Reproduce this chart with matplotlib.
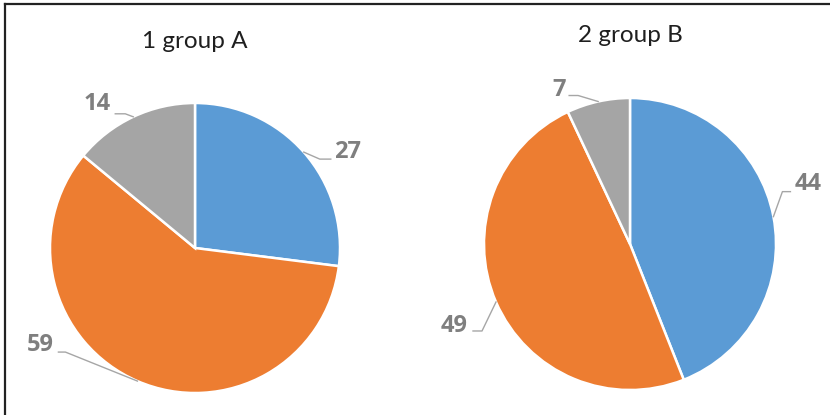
import matplotlib
matplotlib.use('Agg')
import matplotlib.pyplot as plt
import numpy as np

# ── Data ──────────────────────────────────────────────────────────────────────
titles   = ['1 group A', '2 group B']
group_a  = [27, 59, 14]
group_b  = [44, 49, 7]

BLUE   = '#5B9BD5'
ORANGE = '#ED7D31'
GRAY   = '#A5A5A5'
colors = [BLUE, ORANGE, GRAY]

W, H = 830, 415
plt.rcParams['font.family'] = ['Lato', 'DejaVu Sans']

fig = plt.figure(figsize=(W / 100, H / 100), dpi=100)
ax = fig.add_axes([0, 0, 1, 1])

# pie layout in pixel units (y measured from top)
pies = [
    dict(vals=group_a, title=titles[0], cx=195, cy=248, r=145, ty=42,
         # per slice: elbow, end, text offsets relative to edge anchor
         lbl=[((16, 7), (27, 7), (44, 0)),
              ((-72, -29), (-79, -29), (-97, -36)),
              ((-8, -3), (-18, -3), (-36, -13))]),
    dict(vals=group_b, title=titles[1], cx=630, cy=244, r=146, ty=36,
         lbl=[((9, -25), (17, -25), (35, -33)),
              ((-14, 29), (-23, 29), (-42, 24)),
              ((-20, -6), (-29, -6), (-39, -12))]),
]

for p in pies:
    vals = np.array(p['vals'], dtype=float)
    cx, cy, r = p['cx'], H - p['cy'], p['r']
    ax.pie(vals, colors=colors, startangle=90, counterclock=False,
           center=(cx, cy), radius=r, frame=True,
           wedgeprops=dict(edgecolor='white', linewidth=1.8))
    ax.text(cx, H - p['ty'], p['title'], ha='center', va='center',
            fontsize=17.5, color='#1F1F1F')

    cum = np.cumsum(vals) - vals / 2
    for v, c, (elb, end, txt) in zip(vals, cum, p['lbl']):
        ang = np.deg2rad(90 - 360 * c / vals.sum())
        axp, ayp = cx + r * np.cos(ang), cy + r * np.sin(ang)
        xs = [axp, axp + elb[0], axp + end[0]]
        ys = [ayp, ayp - elb[1], ayp - end[1]]
        ax.plot(xs, ys, color='#A6A6A6', lw=1.0, zorder=1)
        ax.text(axp + txt[0], ayp - txt[1], f'{v:.0f}', ha='center', va='center',
                fontsize=17, fontweight='bold', color='#7F7F7F',
                family=['Open Sans', 'DejaVu Sans'])

ax.set_xlim(0, W)
ax.set_ylim(0, H)
ax.set_aspect('auto')
ax.axis('off')

# frame lines (top and left only visible)
fig.add_artist(plt.Line2D([4.5 / W, 4.5 / W], [0, 1 - 4.5 / H], color='#222222', lw=1.6))
fig.add_artist(plt.Line2D([4.5 / W, 1], [1 - 4.5 / H, 1 - 4.5 / H], color='#222222', lw=1.6))

fig.savefig('out.png', dpi=100)
